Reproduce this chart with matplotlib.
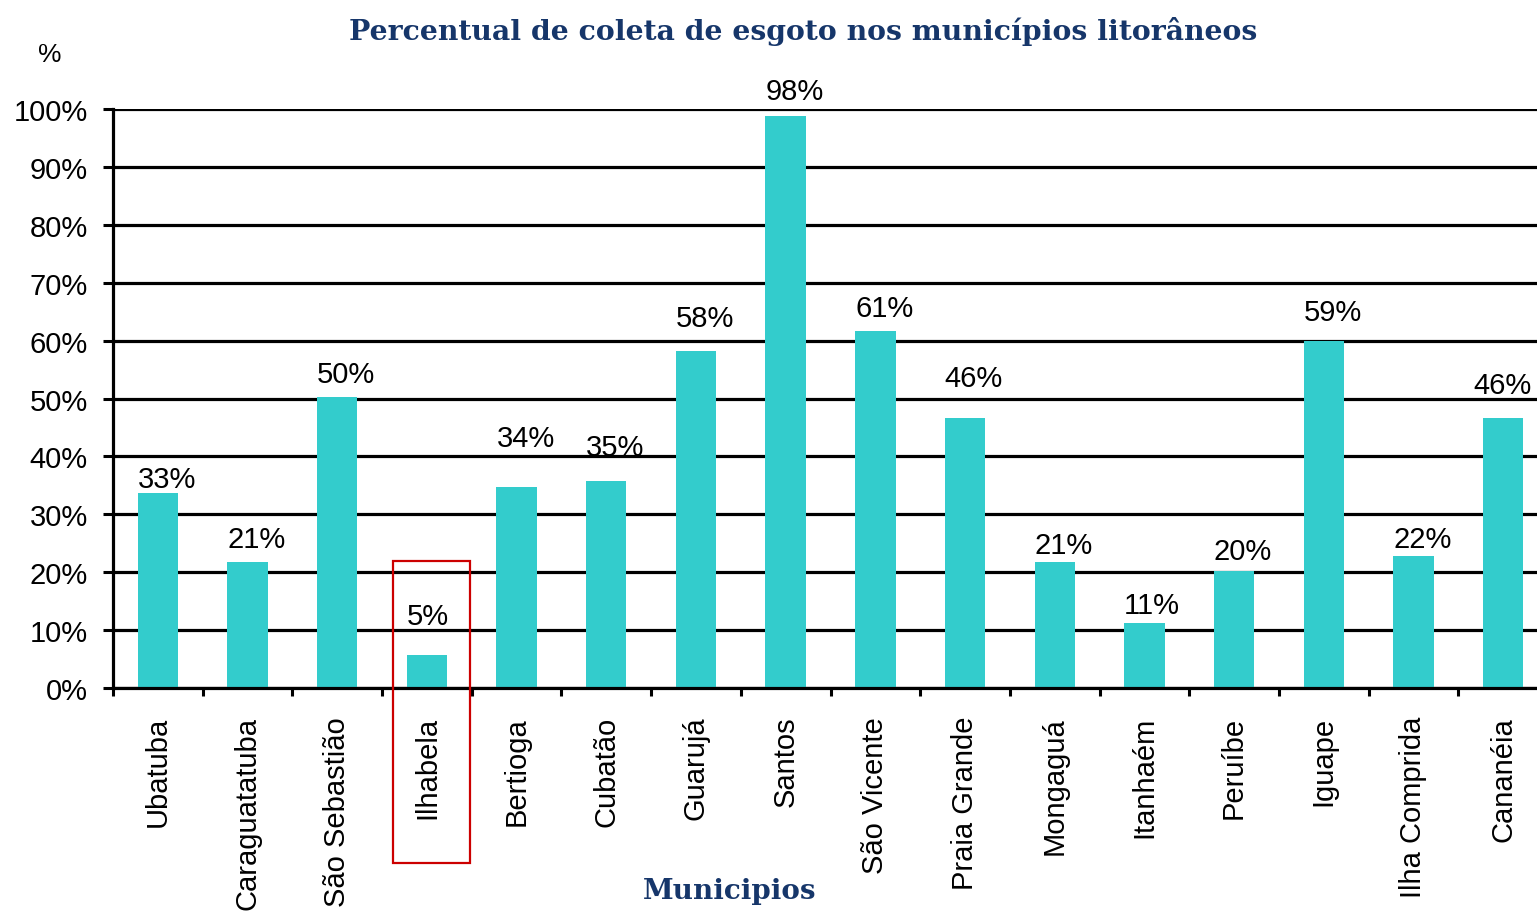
import matplotlib
matplotlib.use("Agg")
import matplotlib.pyplot as plt
from matplotlib.patches import Rectangle
from matplotlib.ticker import FixedLocator, PercentFormatter

# ---------------- data ----------------
municipios = ["Ubatuba", "Caraguatatuba", "São Sebastião", "Ilhabela", "Bertioga",
              "Cubatão", "Guarujá", "Santos", "São Vicente", "Praia Grande",
              "Mongaguá", "Itanhaém", "Peruíbe", "Iguape", "Ilha Comprida", "Cananéia"]
coleta = [33.7, 21.8, 50.3, 5.7, 34.7, 35.8, 58.2, 98.8, 61.7, 46.6,
          21.8, 11.2, 20.2, 59.9, 22.8, 46.6]
rotulos = ["33%", "21%", "50%", "5%", "34%", "35%", "58%", "98%", "61%", "46%",
           "21%", "11%", "20%", "59%", "22%", "46%"]
y_ticks = [0, 10, 20, 30, 40, 50, 60, 70, 80, 90, 100]
destaque = "Ilhabela"

# layout: label offsets (points) relative to the bar's top-left corner
label_dy_pt = [0, 6, 6, 18, 25, 14, 14, 8, 6, 19, 2, 3, 4, 11, 2, 14]
label_dx_pt = [0, 0, 0, 0, 0, 0, 0, 0, 0, 0, 0, 0, 0, 0, 0, -7]

titulo = "Percentual de coleta de esgoto nos municípios litorâneos"
xlabel = "Municipios"

# ---------------- style ----------------
bar_color = "#33CCCC"
navy = "#16366A"
sans = ["Liberation Sans", "DejaVu Sans"]
serif = ["DejaVu Serif"]
fs = 21

fig = plt.figure(figsize=(15.37, 9.12), dpi=100)
ax = fig.add_axes([113 / 1537, 1 - 689 / 912, (1548 - 113) / 1537, (689 - 110) / 912])

x = list(range(len(municipios)))
bw = 0.45
ax.bar(x, coleta, width=bw, color=bar_color, zorder=3)

for xi, v, lab, dx, dy in zip(x, coleta, rotulos, label_dx_pt, label_dy_pt):
    ax.annotate(lab, xy=(xi - bw / 2, v), xytext=(dx, dy), textcoords="offset points",
                ha="left", va="bottom", fontsize=fs, family=sans, color="black",
                zorder=5, annotation_clip=False)

ax.set_xlim(-0.5, len(municipios) - 0.5)
ax.set_ylim(0, 100)

# y axis
ax.yaxis.set_major_locator(FixedLocator(y_ticks))
ax.yaxis.set_major_formatter(PercentFormatter(decimals=0))
ax.tick_params(axis="y", length=7, width=2.2, pad=11, labelsize=fs, color="black")
for t in ax.get_yticklabels():
    t.set_family(sans)
ax.grid(axis="y", color="black", linewidth=2.3, zorder=1)
ax.set_axisbelow(True)

# x axis: ticks at category boundaries, labels at centres
ax.set_xticks([i - 0.5 for i in range(len(municipios) + 1)])
ax.set_xticklabels([])
ax.set_xticks(x, minor=True)
ax.set_xticklabels(municipios, minor=True, rotation=90, fontsize=fs, family=sans,
                   va="top", ha="center")
ax.tick_params(axis="x", which="major", length=6, width=2.2, color="black")
ax.tick_params(axis="x", which="minor", length=0, pad=20)

for s in ["top", "right"]:
    ax.spines[s].set_visible(False)
for s in ["left", "bottom"]:
    ax.spines[s].set_linewidth(2.3)
    ax.spines[s].set_color("black")
    ax.spines[s].set_zorder(4)

# highlight box around Ilhabela
hi = municipios.index(destaque)
rect = Rectangle((hi - 0.38, -30.2), 0.86, 52.1, fill=False, edgecolor="#CC0000",
                 linewidth=1.6, clip_on=False, zorder=6)
ax.add_patch(rect)

# titles
fig.text(803 / 1537, 1 - 31 / 912, titulo, ha="center", va="center", fontsize=20.3,
         family=serif, fontweight="bold", color=navy)
fig.text(730 / 1537, 1 - 892 / 912, xlabel, ha="center", va="center", fontsize=20,
         family=serif, fontweight="bold", color=navy)
fig.text(50 / 1537, 1 - 55 / 912, "%", ha="center", va="center", fontsize=19,
         family=sans, color="black")

fig.savefig("out.png", dpi=100)
